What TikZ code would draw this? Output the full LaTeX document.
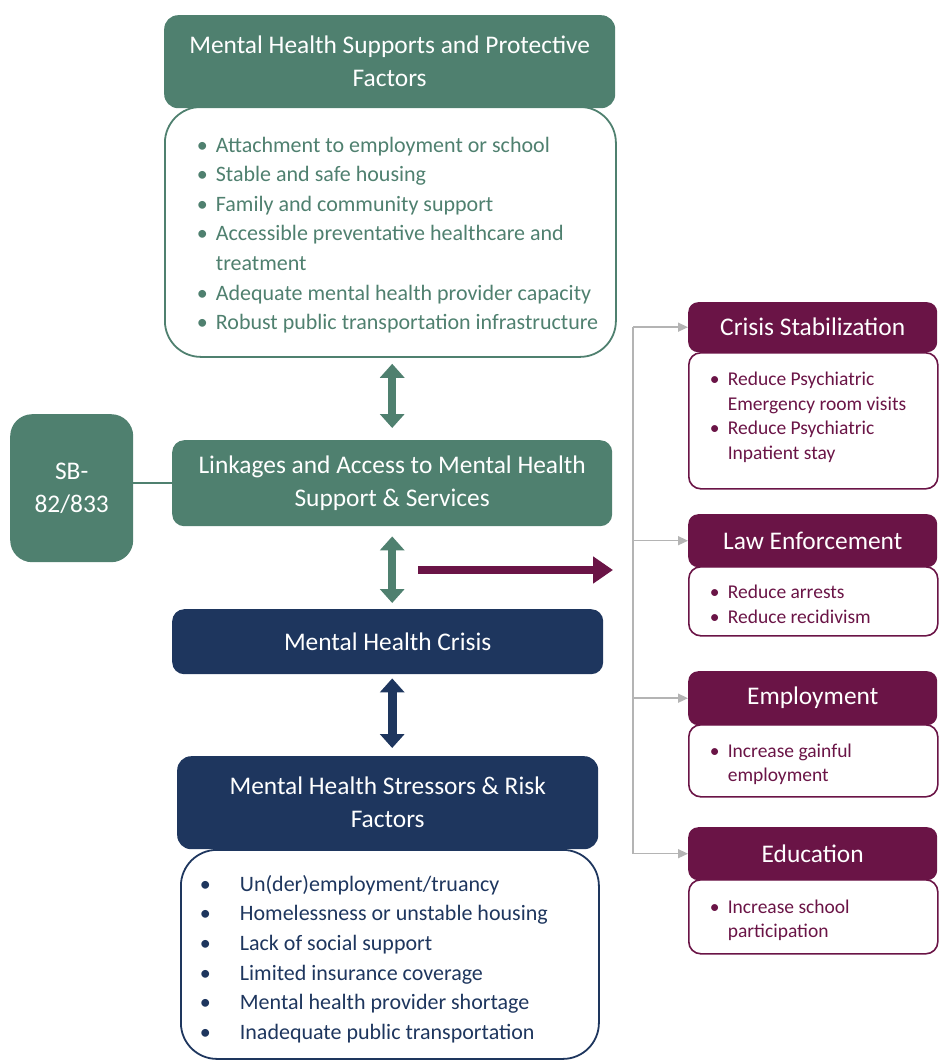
\documentclass[tikz,border=0pt]{standalone}
\usepackage{fontspec}
\setmainfont{Carlito}
\usetikzlibrary{arrows.meta}

\definecolor{mhgreen}{HTML}{4F806F}
\definecolor{mhnavy}{HTML}{1E365E}
\definecolor{mhplum}{HTML}{6A1446}
\definecolor{busgray}{HTML}{B4B4B4}

\tikzset{
  boxtitle/.style={anchor=north west, inner sep=0pt, align=center, text=white, font=\fontsize{25.4}{33}\selectfont},
  greenhead/.style={boxtitle, fill=mhgreen, rounded corners=14pt},
  navyhead/.style={boxtitle, fill=mhnavy, rounded corners=14pt},
  plumhead/.style={boxtitle, fill=mhplum, rounded corners=10pt, minimum width=249pt},
  biglist/.style={anchor=north west, inner sep=0pt, line width=1.8pt, rounded corners=36pt, font=\fontsize{22}{29.6}\selectfont},
  smalllist/.style={anchor=north west, inner sep=0pt, draw=mhplum, line width=1.6pt, text=mhplum, rounded corners=12pt, minimum width=249pt, font=\fontsize{19.5}{24.5}\selectfont},
  dblarrow/.style={line width=8pt, {Triangle[width=24pt,length=14pt]}-{Triangle[width=24pt,length=14pt]}},
  busline/.style={draw=busgray, line width=1.5pt},
  busarrow/.style={busline, -{Triangle[width=9pt,length=10pt]}}
}
% shift list text down without moving its box
\newcommand{\listshift}[2]{\raisebox{-#1}[\height][\depth]{#2}}

\begin{document}
\begin{tikzpicture}[x=1pt, y=-1pt]
\useasboundingbox (0,0) rectangle (938,1062);

% supports and protective factors
\node[biglist, draw=mhgreen, text=mhgreen, minimum width=451pt, minimum height=250pt] (protectlist) at (164,106)
  {\listshift{3pt}{\begin{tabular}{@{\hspace{27pt}}p{19pt}@{}p{395pt}@{}}
   \textbullet & Attachment to employment or school\\
   \textbullet & Stable and safe housing\\
   \textbullet & Family and community support\\
   \textbullet & Accessible preventative healthcare and\\
               & treatment\\
   \textbullet & Adequate mental health provider capacity\\
   \textbullet & Robust public transportation infrastructure
   \end{tabular}}};
\node[greenhead, minimum width=451pt, minimum height=93pt] (protect) at (164,15)
  {Mental Health Supports and Protective\\Factors};

% linkages and SB box
\node[greenhead, rounded corners=12pt, minimum width=440pt, minimum height=86pt] (link) at (172,440)
  {Linkages and Access to Mental Health\\Support \& Services};
\node[greenhead, rounded corners=22pt, minimum width=123pt, minimum height=148pt] (sb) at (10,414) {SB-\\82/833};
\draw[mhgreen, line width=1.5pt] (sb.east |- link.west) -- (link.west);

% crisis
\node[navyhead, rounded corners=12pt, minimum width=431pt, minimum height=65pt] (crisis) at (172,609) {Mental Health Crisis};

% stressors and risk factors
\node[biglist, draw=mhnavy, text=mhnavy, minimum width=418pt, minimum height=209pt] (stresslist) at (180,849)
  {\listshift{5pt}{\begin{tabular}{@{}p{40pt}@{}p{320pt}@{\hspace{20pt}}}
   \textbullet & Un(der)employment/truancy\\
   \textbullet & Homelessness or unstable housing\\
   \textbullet & Lack of social support\\
   \textbullet & Limited insurance coverage\\
   \textbullet & Mental health provider shortage\\
   \textbullet & Inadequate public transportation
   \end{tabular}}};
\node[navyhead, minimum width=421pt, minimum height=93pt] (stress) at (177,756)
  {Mental Health Stressors \& Risk\\Factors};

% double arrows
\draw[dblarrow, mhgreen, shorten <=6pt, shorten >=12pt] (protectlist.south -| link.north) -- (link.north);
\draw[dblarrow, mhgreen, shorten <=10pt, shorten >=6pt] (link.south) -- (link.south |- crisis.north);
\draw[dblarrow, mhnavy, line width=9pt, shorten <=4pt, shorten >=8pt] (crisis.south -| link.south) -- (link.south |- stress.north);

% outcomes
\node[smalllist, minimum height=136pt] (stablist) at (688,352)
  {\listshift{-3pt}{\begin{tabular}{@{\hspace{11pt}}p{18pt}@{}p{200pt}@{}}
   \textbullet & Reduce Psychiatric\\
               & Emergency room visits\\
   \textbullet & Reduce Psychiatric\\
               & Inpatient stay
   \end{tabular}}};
\node[plumhead, minimum height=50pt] (stab) at (688,302) {Crisis Stabilization};

\node[smalllist, minimum height=69pt] (lawlist) at (688,566)
  {\listshift{5pt}{\begin{tabular}{@{\hspace{11pt}}p{18pt}@{}p{200pt}@{}}
   \textbullet & Reduce arrests\\
   \textbullet & Reduce recidivism
   \end{tabular}}};
\node[plumhead, minimum height=53pt] (law) at (688,514) {Law Enforcement};

\node[smalllist, minimum height=72pt] (emplist) at (688,724)
  {\listshift{4pt}{\begin{tabular}{@{\hspace{11pt}}p{18pt}@{}p{200pt}@{}}
   \textbullet & Increase gainful\\
               & employment
   \end{tabular}}};
\node[plumhead, minimum height=54pt] (emp) at (688,671) {Employment};

\node[smalllist, minimum height=74pt] (edulist) at (688,879)
  {\listshift{4pt}{\begin{tabular}{@{\hspace{11pt}}p{18pt}@{}p{200pt}@{}}
   \textbullet & Increase school\\
               & participation
   \end{tabular}}};
\node[plumhead, minimum height=53pt] (edu) at (688,827) {Education};

% arrow out and bus
\coordinate (outstart) at (418,570);
\coordinate (outend) at (613,570);
\draw[mhplum, line width=8pt, -{Triangle[width=26pt,length=20pt]}] (outstart) -- (outend);
\coordinate (bus) at (633,0);
\draw[busline] (bus |- stab.west) -- (bus |- edu.west);
\foreach \n in {stab,law,emp,edu}
  \draw[busarrow] (bus |- \n.west) -- (\n.west);
\end{tikzpicture}
\end{document}
